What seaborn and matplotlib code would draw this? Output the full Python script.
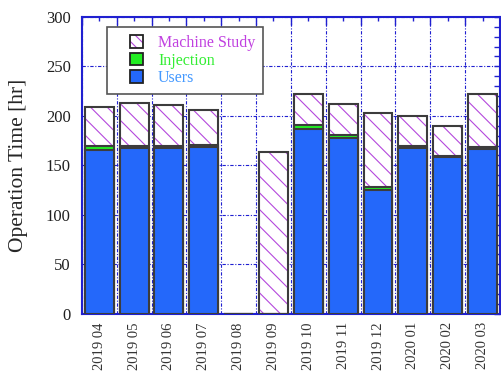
import numpy as np
import pandas as pd
import seaborn as sns
import matplotlib.pyplot as plt
from matplotlib.patches import Patch, Rectangle
from matplotlib.legend_handler import HandlerPatch, HandlerTuple
from matplotlib.ticker import MultipleLocator

# data (hours per month)
months = ['2019 04', '2019 05', '2019 06', '2019 07', '2019 08', '2019 09',
          '2019 10', '2019 11', '2019 12', '2020 01', '2020 02', '2020 03']
users = [166, 168, 168, 169, 0, 0, 187, 178, 125, 168, 158, 167]
injection = [4, 2, 2, 2, 0, 0, 4, 3, 3, 2, 1, 2]
machine_study = [39, 43, 41, 35, 0, 164, 31, 31, 75, 30, 31, 53]

df = pd.DataFrame({'Month': months, 'Users': users,
                   'Injection': injection, 'Machine Study': machine_study})
df['UsersInj'] = df['Users'] + df['Injection']
df['Total'] = df['UsersInj'] + df['Machine Study']

sns.set_style('white')
plt.rcParams['font.family'] = ['Liberation Serif', 'DejaVu Serif']
plt.rcParams['hatch.linewidth'] = 0.8

c_users = '#2468fa'
c_inj = '#22ee22'
c_ms = '#b448dc'
edge = '#3c3c3c'
axcol = '#2020d0'

fig = plt.figure(figsize=(5.02, 3.75), dpi=100)
ax = fig.add_axes([0.163, 0.163, 0.833, 0.792])

w = 0.83
# hatched machine study (full stack height)
sns.barplot(data=df, x='Month', y='Total', order=months, color='white',
            edgecolor=c_ms, linewidth=0, hatch='\\\\', width=w, ax=ax, zorder=3)
sns.barplot(data=df, x='Month', y='Total', order=months, color=edge,
            fill=False, linewidth=1.5, width=w, ax=ax, zorder=3)
# injection + users
sns.barplot(data=df, x='Month', y='UsersInj', order=months, color=c_inj,
            saturation=1, edgecolor=edge, linewidth=1.5, width=w, ax=ax, zorder=3)
sns.barplot(data=df, x='Month', y='Users', order=months, color=c_users,
            saturation=1, edgecolor=edge, linewidth=1.5, width=w, ax=ax, zorder=3)

ax.set_xlim(-0.5, len(months) - 0.5)
ax.set_ylim(0, 300)
ax.set_xlabel('')
ax.set_ylabel('Operation Time [hr]', fontsize=15.5, labelpad=13)

ax.yaxis.set_major_locator(MultipleLocator(50))
ax.yaxis.set_minor_locator(MultipleLocator(10))
ax.set_xticks(np.arange(-0.5, len(months), 1), minor=True)
ax.set_xticks(range(len(months)))
ax.set_xticklabels(months, rotation=90, fontsize=10.5, color='#333333')
ax.tick_params(axis='y', labelsize=12, labelcolor='#202020', pad=8)

ax.tick_params(which='both', direction='in', color=axcol, top=True, right=True)
ax.tick_params(which='major', length=4, width=1)
ax.tick_params(which='minor', length=4, width=1)
ax.tick_params(axis='x', which='major', length=3, pad=6)
ax.tick_params(axis='x', which='minor', length=6)

grid_ls = (0, (3, 1.5, 1, 1.5))
ax.grid(axis='y', which='major', color=axcol, linestyle=grid_ls, linewidth=0.8, zorder=1)
ax.grid(axis='x', which='minor', color=axcol, linestyle=grid_ls, linewidth=0.8, zorder=1)
ax.grid(axis='x', which='major', visible=False)
ax.set_axisbelow(True)

for s in ax.spines.values():
    s.set_color(axcol)
    s.set_linewidth(1.5)


# square legend key sitting at the right end of the handle area
def square_key(legend, orig_handle, xdescent, ydescent, width, height, fontsize):
    side = height
    return Rectangle((width - side - xdescent, -ydescent), side, side)


ms_key = (Patch(facecolor='white', edgecolor=c_ms, linewidth=0, hatch='\\\\\\'),
          Patch(fill=False, edgecolor='#222222', linewidth=1.3))
handles = [
    ms_key,
    Patch(facecolor=c_inj, edgecolor='#222222', linewidth=1.3),
    Patch(facecolor=c_users, edgecolor='#222222', linewidth=1.3),
]
labels = ['Machine Study', 'Injection', 'Users']
leg = ax.legend(handles, labels, loc='upper left', bbox_to_anchor=(0.06, 0.966),
                borderaxespad=0, fontsize=11.5, handlelength=1.75, handleheight=0.85,
                handletextpad=0.95, borderpad=0.5, labelspacing=0.1,
                fancybox=False, edgecolor='#555555', framealpha=1,
                handler_map={Patch: HandlerPatch(patch_func=square_key),
                             tuple: HandlerTuple(ndivide=1, pad=0)})
leg.get_frame().set_linewidth(1.2)
for t, c in zip(leg.get_texts(), ['#c040e0', '#33ee33', '#4499ff']):
    t.set_color(c)
leg.set_zorder(5)

fig.savefig('out.png', dpi=100)
